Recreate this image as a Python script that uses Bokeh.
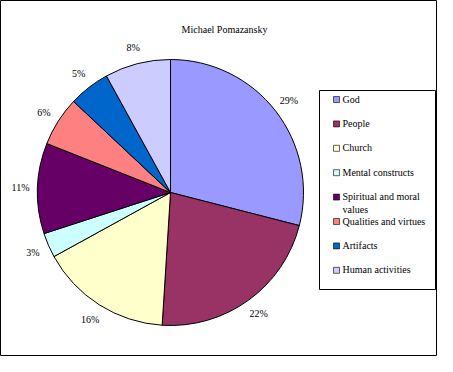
import numpy as np
from bokeh.plotting import figure
from bokeh.models import Range1d, ColumnDataSource
from bokeh.embed import file_html
from bokeh.resources import INLINE
from bokeh.core.properties import value

# ---- data ----
chart_title = "Michael Pomazansky"
categories = ["God", "People", "Church", "Mental constructs",
              "Spiritual and moral values", "Qualities and virtues",
              "Artifacts", "Human activities"]
legend_labels = ["God", "People", "Church", "Mental constructs",
                 "Spiritual and moral\nvalues", "Qualities and virtues",
                 "Artifacts", "Human activities"]
percentages = [29, 22, 16, 3, 11, 6, 5, 8]
colors = ["#9999FF", "#993366", "#FFFFCC", "#CCFFFF",
          "#660066", "#FF8080", "#0066CC", "#CCCCFF"]

FONT = value("Liberation Serif")
W, H = 437, 356

p = figure(width=W, height=H, x_range=Range1d(0, W), y_range=Range1d(0, H),
           x_axis_type=None, y_axis_type=None, output_backend="svg",
           toolbar_location=None, min_border=0)
p.outline_line_color = "black"
p.outline_line_width = 1
p.background_fill_color = "white"
p.border_fill_color = "white"

# ---- pie ----
cx, cy, r = 170, H - 192, 133
frac = np.array(percentages, dtype=float) / sum(percentages)
cum = np.concatenate([[0.0], np.cumsum(frac)])
start = np.pi / 2 - 2 * np.pi * cum[:-1]
end = np.pi / 2 - 2 * np.pi * cum[1:]
mid = (start + end) / 2

src = ColumnDataSource(dict(start=start, end=end, color=colors, cat=categories))
p.wedge(x=cx, y=cy, radius=r, start_angle="start", end_angle="end",
        direction="clock", fill_color="color", line_color="black",
        line_width=1, source=src)

lab = ColumnDataSource(dict(x=cx + 150 * np.cos(mid), y=cy + 150 * np.sin(mid),
                            t=[f"{v}%" for v in percentages]))
p.text(x="x", y="y", text="t", source=lab, text_font=FONT, text_font_size="10px",
       text_align="center", text_baseline="middle", text_color="black")

# ---- title ----
p.text(x=[224], y=[H - 29], text=[chart_title], text_font=FONT,
       text_font_size="10px", text_align="center", text_baseline="middle",
       text_color="black")

# ---- legend ----
bx0, bx1 = 319, 435
by0, by1 = H - 289, H - 90
p.quad(left=[bx0], right=[bx1], bottom=[by0], top=[by1],
       fill_color="white", line_color="black", line_width=1)
rows_y = H - (99 + 24.4 * np.arange(len(categories)))
p.rect(x=[336] * len(categories), y=rows_y, width=6, height=6,
       fill_color=colors, line_color="black", line_width=0.6)
p.text(x=[342] * len(categories), y=rows_y + 6, text=legend_labels,
       text_font=FONT, text_font_size="10px", text_align="left",
       text_baseline="top", text_line_height=1.2, text_color="black")

open("out.html", "w").write(file_html(p, INLINE))
